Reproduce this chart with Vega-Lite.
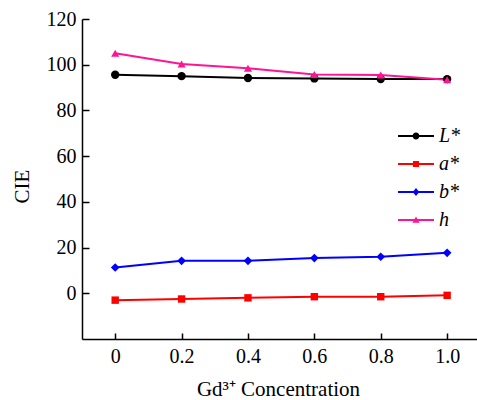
{
  "$schema": "https://vega.github.io/schema/vega-lite/v6.json",
  "width": 395,
  "height": 320,
  "autosize": "none",
  "padding": {"left": 82, "top": 19, "right": 0, "bottom": 61},
  "background": "white",
  "config": {
    "view": {"stroke": null},
    "font": "Liberation Serif",
    "axis": {"grid": false, "domainColor": "black", "domainWidth": 1.5, "tickColor": "black", "tickWidth": 1.5, "labelColor": "black", "titleColor": "black", "titleFontWeight": "normal"}
  },
  "data": {"values": [
    {"x": 0, "y": 95.6, "series": "L*"},
    {"x": 0.2, "y": 95.0, "series": "L*"},
    {"x": 0.4, "y": 94.2, "series": "L*"},
    {"x": 0.6, "y": 94.0, "series": "L*"},
    {"x": 0.8, "y": 93.7, "series": "L*"},
    {"x": 1.0, "y": 93.7, "series": "L*"},
    {"x": 0, "y": -3.0, "series": "a*"},
    {"x": 0.2, "y": -2.5, "series": "a*"},
    {"x": 0.4, "y": -2.0, "series": "a*"},
    {"x": 0.6, "y": -1.5, "series": "a*"},
    {"x": 0.8, "y": -1.5, "series": "a*"},
    {"x": 1.0, "y": -0.9, "series": "a*"},
    {"x": 0, "y": 11.3, "series": "b*"},
    {"x": 0.2, "y": 14.2, "series": "b*"},
    {"x": 0.4, "y": 14.2, "series": "b*"},
    {"x": 0.6, "y": 15.4, "series": "b*"},
    {"x": 0.8, "y": 16.0, "series": "b*"},
    {"x": 1.0, "y": 17.7, "series": "b*"},
    {"x": 0, "y": 105.0, "series": "h"},
    {"x": 0.2, "y": 100.3, "series": "h"},
    {"x": 0.4, "y": 98.5, "series": "h"},
    {"x": 0.6, "y": 95.7, "series": "h"},
    {"x": 0.8, "y": 95.5, "series": "h"},
    {"x": 1.0, "y": 93.4, "series": "h"}
  ]},
  "encoding": {
    "x": {"field": "x", "type": "quantitative", "scale": {"domain": [-0.1, 1.09], "nice": false, "zero": false},
      "axis": {"values": [0, 0.2, 0.4, 0.6, 0.8, 1.0], "labelExpr": "datum.value == 0 ? '0' : format(datum.value, '.1f')", "tickSize": -6, "labelPadding": 13, "labelFont": "Liberation Serif", "labelFontSize": 20, "title": "Gd³⁺ Concentration", "titleFont": "Liberation Serif", "titleFontSize": 21, "titleX": 196, "titleY": 50, "titleBaseline": "middle", "titleAlign": "center"}},
    "y": {"field": "y", "type": "quantitative", "scale": {"domain": [-20, 120], "nice": false, "zero": false},
      "axis": {"values": [0, 20, 40, 60, 80, 100, 120], "tickSize": -7, "labelPadding": 13, "labelFont": "Liberation Serif", "labelFontSize": 20, "title": "CIE", "titleFont": "Liberation Serif", "titleFontSize": 21, "titleX": -60, "titleY": 167, "titleAngle": -90, "titleBaseline": "middle", "titleAlign": "center"}},
    "color": {"field": "series", "type": "nominal",
      "scale": {"domain": ["L*", "a*", "b*", "h"], "range": ["#000000", "#ff0000", "#0000ff", "#ff1493"]}}
  },
  "layer": [
    {"mark": {"type": "line", "strokeWidth": 2}},
    {"transform": [{"filter": "datum.series == 'L*'"}], "mark": {"type": "point", "shape": "circle", "filled": true, "opacity": 1, "size": 70}},
    {"transform": [{"filter": "datum.series == 'a*'"}], "mark": {"type": "point", "shape": "square", "filled": true, "opacity": 1, "size": 55}},
    {"transform": [{"filter": "datum.series == 'b*'"}], "mark": {"type": "point", "shape": "diamond", "filled": true, "opacity": 1, "size": 75}},
    {"transform": [{"filter": "datum.series == 'h'"}], "mark": {"type": "point", "shape": "triangle-up", "filled": true, "opacity": 1, "size": 65}},
    {"mark": {"type": "point", "filled": true, "opacity": 0},
      "encoding": {
        "shape": {"field": "series", "type": "nominal",
          "scale": {"domain": ["L*", "a*", "b*", "h"], "range": [
            "M-1,-0.05H1V0.05H-1ZM-0.19,0A0.19,0.19 0 1,1 0.19,0A0.19,0.19 0 1,1 -0.19,0Z",
            "M-1,-0.05H1V0.05H-1ZM-0.17,-0.17H0.17V0.17H-0.17Z",
            "M-1,-0.05H1V0.05H-1ZM0,-0.22L0.18,0L0,0.22L-0.18,0Z",
            "M-1,-0.05H1V0.05H-1ZM0,-0.2L0.2,0.15L-0.2,0.15Z"
          ]},
          "legend": {"title": null, "orient": "none", "legendX": 316, "legendY": 99, "padding": 0, "symbolSize": 1296, "symbolStrokeWidth": 0, "labelFont": "Liberation Serif", "labelFontStyle": "italic", "labelFontSize": 20, "labelColor": "black", "labelOffset": 5, "rowPadding": -5}
        }
      }
    }
  ]
}
